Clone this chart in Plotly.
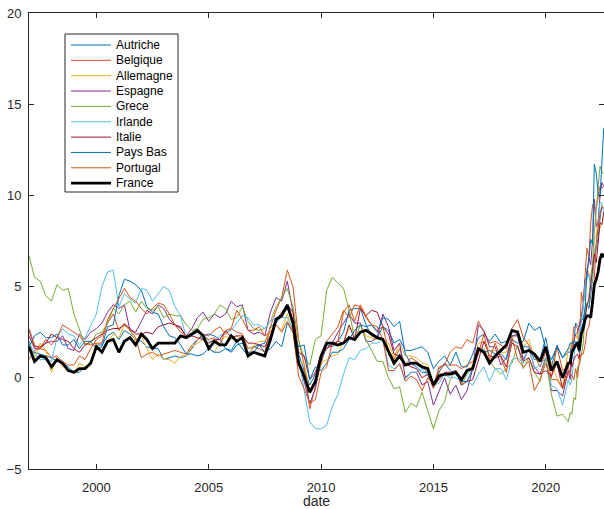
import plotly.graph_objects as go

# ---------------- data (annual inflation rate, %) ----------------
# quarterly points (Jan, Apr, Jul, Oct) 1997-2020, then monthly Jan 2021 - Aug 2022
quarter_years = list(range(1997, 2021))
quarter_months = [1, 4, 7, 10]
monthly_span = [(2021, m) for m in range(1, 13)] + [(2022, m) for m in range(1, 9)]
dates = [f"{y}-{m:02d}-01" for y in quarter_years for m in quarter_months] + \
        [f"{y}-{m:02d}-01" for (y, m) in monthly_span]

autriche = [1.5, 1.4, 1.3, 1.2, 1.1, 0.9, 0.8, 0.6, 0.3, 0.3, 0.6, 0.8,
            1.8, 1.8, 2.3, 2.5, 2.1, 2.6, 2.4, 2.1, 2.0, 1.7, 1.6, 1.6,
            1.0, 1.1, 1.2, 1.1, 1.2, 1.6, 2.1, 2.3, 2.4, 2.3, 2.1, 1.6,
            1.5, 2.0, 1.6, 1.2, 1.7, 1.8, 1.9, 2.8, 3.0, 3.4, 3.8, 3.0,
            1.3, 0.4, -0.4, 0.2, 0.8, 1.8, 1.7, 2.0, 2.5, 3.7, 3.8, 3.8,
            2.9, 2.3, 2.2, 2.8, 2.6, 1.9, 2.1, 1.5, 1.5, 1.6, 1.7, 1.4,
            0.5, 0.9, 1.2, 0.7, 1.4, 0.6, 0.6, 1.3, 2.2, 2.4, 2.0, 2.4,
            1.9, 2.0, 2.3, 2.4, 1.7, 1.7, 1.0, 1.0, 2.2, 0.6, 1.8, 1.1,
            1.4, 1.4, 2.0, 1.9, 3.0, 2.8, 2.8, 3.2, 3.2, 3.8, 4.1, 3.8,
            4.5, 5.5, 6.6, 7.1, 7.7, 8.7, 9.4, 9.3]

belgique = [1.0, 1.5, 1.6, 1.5, 1.1, 1.2, 0.9, 0.7, 0.7, 1.2, 1.0, 1.6,
            2.1, 2.3, 3.0, 3.5, 2.6, 3.0, 2.6, 2.2, 1.1, 1.3, 1.4, 1.2,
            1.3, 1.4, 1.5, 1.4, 1.3, 1.8, 2.1, 2.4, 2.3, 2.6, 2.8, 2.4,
            2.7, 2.5, 2.4, 1.6, 1.7, 1.6, 1.4, 2.8, 3.7, 4.4, 5.9, 5.0,
            2.1, 0.7, -1.7, -0.5, 0.8, 2.0, 2.4, 2.8, 3.7, 3.3, 4.0, 3.9,
            3.3, 2.9, 2.6, 2.8, 1.5, 1.0, 1.6, 0.7, 1.1, 0.9, 0.6, 0.3,
            -0.6, 0.6, 0.7, 1.4, 1.7, 1.6, 2.1, 1.9, 3.1, 2.5, 1.9, 2.0,
            1.8, 1.6, 2.7, 3.2, 2.2, 1.8, 1.2, 0.6, 1.4, 0.0, 1.7, 0.4,
            0.6, 0.3, 1.6, 2.8, 2.8, 2.7, 1.4, 4.7, 4.1, 5.4, 7.1, 6.6,
            8.5, 9.5, 9.3, 9.3, 9.9, 10.5, 10.4, 10.5]

allemagne = [1.9, 1.1, 1.9, 1.5, 0.3, 1.1, 0.6, 0.5, 0.2, 0.8, 0.6, 0.9,
             1.9, 1.4, 1.9, 2.4, 2.2, 2.9, 2.6, 2.0, 2.3, 1.6, 1.0, 1.3,
             1.0, 1.0, 0.8, 1.2, 1.2, 1.7, 1.9, 2.1, 1.6, 1.4, 1.9, 2.3,
             2.1, 2.3, 2.1, 1.1, 1.8, 2.0, 2.0, 2.7, 2.9, 2.6, 3.5, 2.5,
             0.9, 0.8, -0.7, -0.1, 0.8, 1.0, 1.2, 1.3, 2.0, 2.7, 2.6, 2.9,
             2.3, 2.2, 2.1, 2.1, 1.9, 1.1, 1.9, 1.2, 1.2, 1.1, 0.8, 0.7,
             -0.5, 0.3, 0.1, 0.2, 0.4, -0.3, 0.4, 0.7, 1.9, 2.0, 1.5, 1.5,
             1.4, 1.4, 2.1, 2.6, 1.7, 2.1, 1.1, 0.9, 1.6, 0.8, 0.0, -0.5,
             1.6, 1.6, 2.0, 2.1, 2.4, 2.1, 3.1, 3.4, 4.1, 4.6, 6.0, 5.7,
             5.1, 5.5, 7.6, 7.8, 8.7, 8.2, 8.5, 8.8]

espagne = [2.3, 1.6, 1.6, 1.9, 2.0, 2.0, 2.3, 1.6, 1.5, 2.4, 2.1, 2.5,
           2.7, 3.0, 3.6, 4.0, 3.8, 4.0, 2.6, 2.5, 3.1, 3.7, 3.5, 4.0,
           3.8, 3.2, 2.9, 2.7, 2.3, 2.7, 3.3, 3.6, 3.1, 3.5, 3.3, 3.5,
           4.2, 3.9, 4.0, 2.6, 2.4, 2.5, 2.3, 3.6, 4.4, 4.2, 5.3, 3.6,
           0.8, -0.2, -1.4, -0.6, 1.1, 1.6, 1.9, 2.5, 3.0, 3.5, 3.0, 3.0,
           2.0, 2.0, 2.2, 3.5, 2.8, 1.5, 1.9, 0.0, 0.3, 0.3, -0.4, -0.2,
           -1.5, -0.7, 0.0, -0.9, -0.4, -1.2, -0.7, 0.5, 2.9, 2.6, 1.7, 1.7,
           0.7, 1.1, 2.3, 2.3, 1.0, 1.6, 0.6, 0.2, 1.1, -0.7, -0.7, -1.0,
           0.4, -0.1, 1.2, 2.0, 2.4, 2.5, 2.9, 3.3, 4.0, 5.4, 5.5, 6.6,
           6.2, 7.6, 9.8, 8.3, 8.5, 10.0, 10.7, 10.5]

grece = [6.7, 5.5, 5.3, 4.5, 4.2, 5.1, 4.8, 4.9, 3.5, 2.6, 1.8, 1.9,
         2.4, 2.5, 3.0, 3.8, 3.5, 4.0, 4.2, 3.6, 4.2, 3.8, 3.7, 3.9,
         3.3, 3.5, 3.4, 3.4, 2.9, 2.6, 2.7, 3.2, 3.3, 3.5, 4.0, 3.8,
         3.2, 3.3, 3.9, 3.1, 2.7, 2.6, 2.7, 3.1, 3.9, 4.4, 4.9, 3.9,
         2.0, 1.1, 0.7, 2.1, 2.3, 4.8, 5.5, 5.2, 4.9, 3.7, 2.1, 2.9,
         2.1, 1.5, 0.9, 0.9, 0.0, -0.6, -0.5, -1.9, -1.4, -1.6, -0.8, -1.8,
         -2.8, -1.8, -1.3, -0.1, 0.4, -0.4, 0.2, 0.6, 1.5, 1.6, 0.9, 0.5,
         0.2, 0.5, 0.8, 1.8, 0.5, 1.1, 0.3, -0.2, 1.1, -0.9, -2.1, -2.0,
         -2.4, -1.9, -2.0, -1.1, -1.2, 0.6, 0.7, 1.2, 1.9, 3.4, 4.0, 4.4,
         5.5, 6.3, 8.0, 9.1, 10.5, 11.6, 11.3, 11.2]

irlande = [2.0, 1.3, 1.0, 1.0, 0.9, 2.2, 2.7, 2.4, 2.3, 1.8, 2.2, 2.9,
           3.5, 5.0, 5.8, 5.9, 3.9, 4.6, 4.3, 4.1, 4.9, 4.8, 4.2, 4.6,
           5.0, 4.8, 3.9, 3.4, 2.2, 2.3, 2.5, 2.4, 2.0, 2.0, 2.3, 2.5,
           2.6, 3.0, 3.4, 3.3, 2.9, 2.9, 2.7, 3.1, 3.3, 3.3, 3.3, 2.7,
           1.1, -0.7, -2.4, -2.8, -2.8, -2.6, -1.6, -0.9, 0.2, 1.1, 1.0, 1.5,
           1.6, 1.9, 1.9, 2.1, 0.7, 0.5, 0.7, -0.1, 0.3, 0.3, 0.5, 0.1,
           -0.4, -0.3, 0.2, 0.0, 0.0, -0.2, -0.2, -0.4, 0.2, 0.6, -0.2, 0.5,
           0.5, -0.1, 1.0, 1.1, 0.8, 1.7, 0.5, 0.7, 1.1, -0.4, -0.6, -1.5,
           -0.1, -0.4, -0.1, 1.1, 1.9, 1.6, 2.2, 3.0, 3.8, 5.1, 5.4, 5.7,
           5.0, 5.7, 6.9, 7.3, 8.2, 9.6, 9.6, 9.0]

italie = [2.6, 1.7, 1.7, 1.9, 2.4, 2.2, 2.1, 2.0, 1.6, 1.4, 1.8, 2.0,
          2.2, 2.4, 2.6, 2.7, 2.7, 2.9, 2.7, 2.4, 2.4, 2.5, 2.4, 2.8,
          2.9, 3.0, 2.9, 2.8, 2.2, 2.3, 2.2, 2.1, 1.9, 2.1, 2.1, 2.6,
          2.2, 2.3, 2.3, 1.9, 1.9, 1.8, 1.7, 2.3, 3.1, 3.6, 4.0, 3.6,
          1.4, 1.2, -0.1, 0.3, 1.3, 1.6, 1.8, 2.0, 1.9, 2.9, 2.1, 3.8,
          3.4, 3.7, 3.6, 2.8, 2.4, 1.3, 1.2, 0.8, 0.6, 0.5, 0.0, 0.2,
          -0.5, -0.1, 0.3, 0.3, 0.4, -0.4, -0.2, -0.1, 1.0, 2.0, 1.2, 1.1,
          1.2, 0.6, 1.9, 1.7, 0.9, 1.1, 0.3, 0.2, 0.4, 0.1, 0.8, -0.6,
          0.7, 1.0, 0.6, 1.0, 1.2, 1.3, 1.0, 2.5, 2.9, 3.2, 4.0, 4.2,
          5.1, 6.2, 6.8, 6.3, 7.3, 8.5, 8.4, 9.1]

pays_bas = [1.7, 2.3, 2.5, 2.2, 2.2, 2.4, 1.8, 1.8, 2.1, 1.6, 2.0, 2.0,
            1.6, 1.7, 2.8, 2.9, 4.5, 5.4, 5.3, 5.1, 4.8, 3.9, 3.6, 3.5,
            2.8, 2.3, 2.2, 1.8, 1.3, 1.3, 1.2, 1.3, 1.6, 1.4, 1.4, 1.6,
            1.4, 1.8, 1.9, 1.4, 1.4, 1.8, 1.4, 1.6, 2.0, 1.7, 3.0, 2.5,
            1.7, 1.8, -0.1, 0.6, 0.4, 0.8, 1.4, 1.4, 1.6, 2.1, 2.6, 2.9,
            2.8, 2.9, 2.5, 3.3, 3.2, 2.8, 3.1, 1.3, 0.8, 0.6, 0.3, 0.3,
            -0.4, 0.3, 0.8, 0.4, 0.2, -0.2, -0.2, 0.5, 1.6, 1.4, 1.5, 1.3,
            1.3, 1.0, 2.1, 1.9, 2.0, 3.0, 2.6, 2.8, 1.6, 1.0, 1.7, 1.1,
            1.6, 1.9, 1.9, 1.9, 2.0, 1.7, 1.4, 2.7, 3.0, 3.7, 5.9, 6.4,
            7.6, 7.3, 11.7, 11.2, 10.2, 9.9, 11.6, 13.7]

portugal = [2.7, 1.8, 1.6, 2.1, 1.8, 2.2, 2.9, 2.7, 2.5, 2.3, 1.9, 1.8,
            1.9, 1.9, 3.2, 3.8, 4.4, 4.9, 4.4, 4.2, 3.8, 3.5, 3.8, 4.1,
            4.0, 3.5, 2.9, 2.5, 2.3, 2.4, 2.5, 2.3, 2.1, 2.2, 1.8, 2.6,
            2.7, 3.7, 3.2, 2.6, 2.6, 2.8, 2.3, 2.5, 2.9, 2.5, 3.1, 2.5,
            0.1, -0.6, -1.4, -1.2, 0.3, 0.6, 1.9, 2.0, 3.6, 4.0, 3.1, 4.0,
            3.4, 2.9, 2.8, 2.1, 0.4, 0.4, 0.8, -0.2, 0.1, -0.1, -0.7, 0.0,
            -0.4, 0.5, 0.7, 0.7, 0.7, 0.5, 0.7, 0.9, 1.3, 2.4, 1.0, 1.9,
            1.1, 0.3, 2.2, 1.0, 0.6, 0.9, -0.7, -0.1, 0.8, -0.1, -0.1, -0.6,
            0.2, 0.3, 0.1, -0.1, 0.5, 0.0, 1.0, 1.3, 1.3, 1.8, 2.6, 2.8,
            3.4, 4.4, 5.5, 7.4, 8.1, 9.0, 9.4, 9.3]

france = [1.7, 0.9, 1.2, 1.1, 0.6, 1.0, 0.8, 0.4, 0.3, 0.5, 0.5, 0.8,
          1.7, 1.4, 2.0, 2.1, 1.4, 2.0, 2.2, 1.8, 2.4, 2.1, 1.6, 1.9,
          1.9, 1.9, 1.9, 2.3, 2.2, 2.4, 2.6, 2.3, 1.6, 2.0, 1.8, 1.8,
          2.3, 2.0, 2.2, 1.2, 1.4, 1.3, 1.2, 2.1, 3.2, 3.4, 4.0, 3.0,
          0.8, 0.1, -0.8, -0.2, 1.2, 1.9, 1.9, 1.8, 1.9, 2.2, 2.1, 2.5,
          2.6, 2.4, 2.2, 2.1, 1.4, 0.8, 1.2, 0.7, 0.8, 0.8, 0.6, 0.5,
          -0.4, 0.1, 0.2, 0.2, 0.3, -0.1, 0.4, 0.5, 1.6, 1.4, 0.8, 1.2,
          1.5, 1.8, 2.6, 2.5, 1.4, 1.5, 1.3, 0.9, 1.7, 0.4, 0.9, 0.0,
          0.8, 0.8, 1.4, 1.6, 1.8, 1.9, 1.5, 2.4, 2.7, 3.2, 3.4, 3.4,
          3.3, 4.2, 5.1, 5.4, 5.8, 6.5, 6.8, 6.6]

names = ["Autriche", "Belgique", "Allemagne", "Espagne", "Grece",
         "Irlande", "Italie", "Pays Bas", "Portugal", "France"]
series = [autriche, belgique, allemagne, espagne, grece,
          irlande, italie, pays_bas, portugal, france]
colors = ["#0072BD", "#D95319", "#EDB120", "#7E2F8E", "#77AC30",
          "#4DBEEE", "#A2142F", "#0072BD", "#D95319", "#000000"]
widths = [1, 1, 1, 1, 1, 1, 1, 1, 1, 2.8]

x_tick_vals = ["2000-01-01", "2005-01-01", "2010-01-01", "2015-01-01", "2020-01-01"]
x_tick_text = ["2000", "2005", "2010", "2015", "2020"]
y_tick_vals = [-5, 0, 5, 10, 15, 20]

# ---------------- figure ----------------
W, H = 604, 509
# plot area in window pixels: x 29..604, y 13..469
PL, PR, PT, PB = 29, 604, 13, 469
ML, MR, MT, MB = PL, W - PR, PT, H - PB
FONT = "Arial, Liberation Sans, Helvetica, sans-serif"
AX = "#262626"

fig = go.Figure()
for name, vals, col, w in zip(names, series, colors, widths):
    fig.add_trace(go.Scatter(x=dates, y=vals, mode="lines", name=name,
                             line=dict(color=col, width=w), showlegend=False))

def px(xp):
    return (xp - PL) / (PR - PL)

def py(yp):
    return (PB - yp) / (PB - PT)

shapes = [dict(type="rect", xref="paper", yref="paper",
               x0=px(65), x1=px(178), y0=py(192), y1=py(34),
               line=dict(color=AX, width=1), fillcolor="white", layer="above")]
annotations = []
for i, (name, col, w) in enumerate(zip(names, colors, widths)):
    yy = py(45 + i * 15.35)
    shapes.append(dict(type="line", xref="paper", yref="paper",
                       x0=px(71), x1=px(111), y0=yy, y1=yy,
                       line=dict(color=col, width=w), layer="above"))
    annotations.append(dict(xref="paper", yref="paper", x=px(115), y=yy,
                            text=name, showarrow=False, xanchor="left",
                            yanchor="middle", borderpad=0,
                            font=dict(family=FONT, size=12, color="#000000")))

fig.update_layout(
    width=W, height=H,
    margin=dict(l=ML, r=MR, t=MT, b=MB, pad=0, autoexpand=False),
    paper_bgcolor="white", plot_bgcolor="white",
    showlegend=False,
    shapes=shapes, annotations=annotations,
    font=dict(family=FONT, size=13, color=AX),
)
fig.update_xaxes(
    type="date", range=["1997-01-01", "2022-08-05"],
    tickvals=x_tick_vals, ticktext=x_tick_text,
    ticks="inside", ticklen=5, tickcolor=AX, tickwidth=1,
    showline=True, linecolor=AX, linewidth=1, mirror="ticks",
    showgrid=False, zeroline=False,
    tickfont=dict(family=FONT, size=13, color=AX),
    ticklabelstandoff=6, ticklabeloverflow="allow",
    title=dict(text="date", font=dict(family=FONT, size=14, color=AX), standoff=4),
)
fig.update_yaxes(
    range=[-5, 20], tickvals=y_tick_vals,
    ticks="inside", ticklen=5, tickcolor=AX, tickwidth=1,
    showline=True, linecolor=AX, linewidth=1, mirror="ticks",
    showgrid=False, zeroline=False,
    tickfont=dict(family=FONT, size=13, color=AX),
    ticklabelstandoff=4, ticklabeloverflow="allow",
)

fig.write_html("out.html",
               config={"displayModeBar": False},
               post_script="document.body.style.margin='0';document.body.style.overflow='hidden';")
